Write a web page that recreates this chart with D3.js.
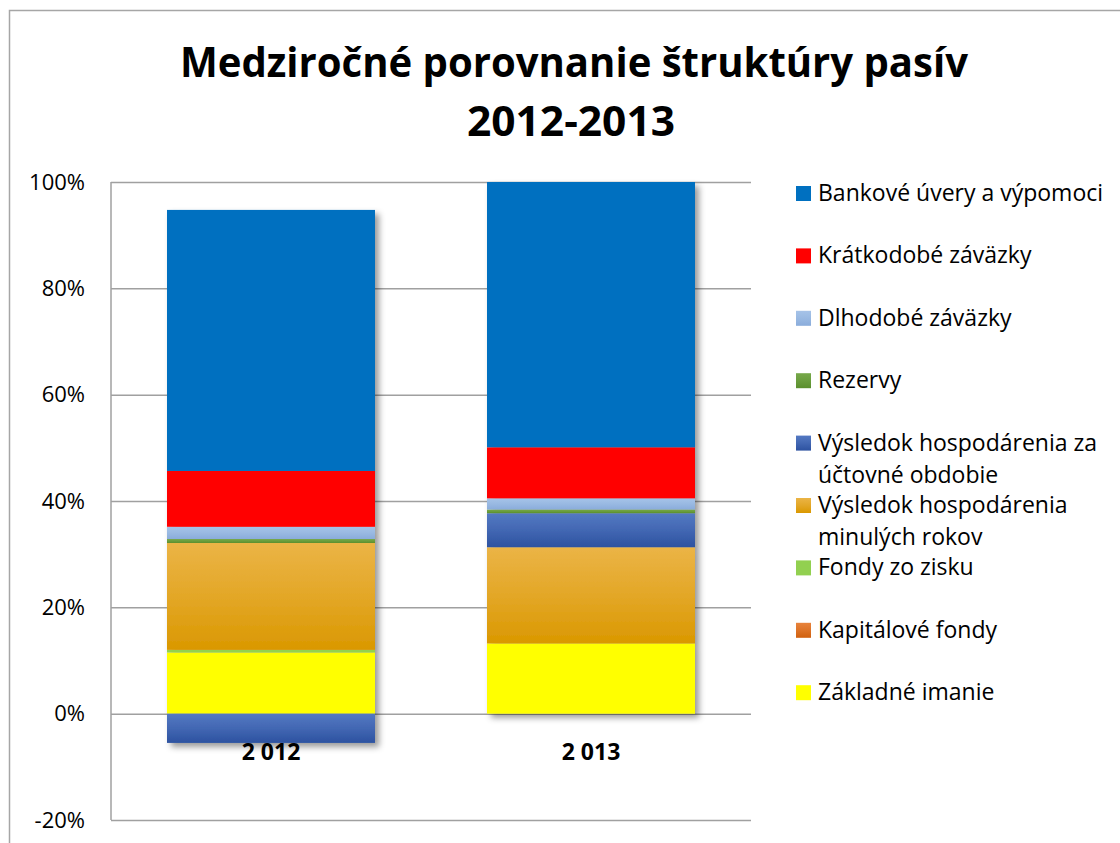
<!DOCTYPE html>
<html>
<head>
<meta charset="utf-8">
<script src="https://cdn.jsdelivr.net/npm/d3@7"></script>
<style>
  body { margin: 0; background: #fff; }
  text { font-family: "Open Sans", sans-serif; fill: #000; }
</style>
</head>
<body>
<div id="chart"></div>
<script>
// categories and series, stacked from the bottom up
const years = ["2 012", "2 013"];
const series = [
  "Základné imanie",
  "Kapitálové fondy",
  "Fondy zo zisku",
  "Výsledok hospodárenia minulých rokov",
  "Výsledok hospodárenia za účtovné obdobie",
  "Rezervy",
  "Dlhodobé záväzky",
  "Krátkodobé záväzky",
  "Bankové úvery a výpomoci"
];
const values2012 = [11.5, 0, 0.5, 20.1, -5.5, 0.75, 2.3, 10.5, 49.1];
const values2013 = [13.2, 0, 0, 18.1, 6.4, 0.7, 2.1, 9.6, 49.9];
const yTicks = [-20, 0, 20, 40, 60, 80, 100];

// top / bottom colour of each series
const colorTop = ["#ffff00", "#e8833c", "#92d050", "#ebb446", "#5479c2", "#77a84a", "#a6c3e8", "#ff0000", "#0070c0"];
const colorBottom = ["#ffff00", "#d0600e", "#92d050", "#da9800", "#2d52a0", "#5b8f2d", "#8aacdb", "#ff0000", "#0070c0"];

const width = 1120, height = 843;
const plot = { left: 111, right: 751, top: 182, bottom: 820 };

const svg = d3.select("#chart").append("svg")
    .attr("width", width)
    .attr("height", height);

const defs = svg.append("defs");
series.forEach((s, i) => {
  const g = defs.append("linearGradient")
      .attr("id", "grad" + i)
      .attr("x1", 0).attr("y1", 0).attr("x2", 0).attr("y2", 1);
  g.append("stop").attr("offset", "0%").attr("stop-color", colorTop[i]);
  g.append("stop").attr("offset", "50%").attr("stop-color", d3.interpolateRgb(colorTop[i], colorBottom[i])(0.45));
  g.append("stop").attr("offset", "100%").attr("stop-color", colorBottom[i]);
});
defs.append("filter").attr("id", "shadow")
    .attr("x", "-10%").attr("y", "-10%").attr("width", "130%").attr("height", "130%")
  .append("feDropShadow")
    .attr("dx", 4).attr("dy", 4).attr("stdDeviation", 3)
    .attr("flood-color", "#000").attr("flood-opacity", 0.4);

// chart border
svg.append("rect")
    .attr("x", 9.5).attr("y", 10.5)
    .attr("width", 1300).attr("height", 1000)
    .attr("fill", "none").attr("stroke", "#a6a6a6").attr("stroke-width", 1.5);

// title
const title = svg.append("g").attr("font-weight", "bold");
title.append("text")
    .attr("x", 574).attr("y", 77)
    .attr("text-anchor", "middle")
    .attr("font-size", 41)
    .attr("textLength", 788).attr("lengthAdjust", "spacingAndGlyphs")
    .text("Medziročné porovnanie štruktúry pasív");
title.append("text")
    .attr("x", 571).attr("y", 136)
    .attr("text-anchor", "middle")
    .attr("font-size", 41)
    .attr("textLength", 208).attr("lengthAdjust", "spacingAndGlyphs")
    .text("2012-2013");

// scales
const x = d3.scaleBand()
    .domain(years)
    .range([plot.left, plot.right])
    .paddingInner(0.35)
    .paddingOuter(0.175);

const y = d3.scaleLinear()
    .domain([-20, 100])
    .range([plot.bottom, plot.top]);

// gridlines + tick labels
const yAxis = svg.append("g")
    .attr("transform", `translate(${plot.left},0)`)
    .call(d3.axisLeft(y)
      .tickValues(yTicks)
      .tickSize(-(plot.right - plot.left))
      .tickPadding(26)
      .tickFormat(d => d + "%"));
yAxis.select(".domain").remove();
yAxis.selectAll(".tick line").attr("stroke", "#a0a0a0").attr("stroke-width", 1.5);
yAxis.selectAll(".tick text").attr("font-size", 22).attr("font-family", "Open Sans");

svg.append("line")
    .attr("x1", plot.left).attr("x2", plot.left)
    .attr("y1", plot.top).attr("y2", plot.bottom)
    .attr("stroke", "#a0a0a0").attr("stroke-width", 1.5);

// stacked bars
const rows = years.map((yr, j) => {
  const vals = j === 0 ? values2012 : values2013;
  const row = { year: yr };
  series.forEach((s, i) => row[s] = vals[i]);
  return row;
});
const stacked = d3.stack()
    .keys(series)
    .offset(d3.stackOffsetDiverging)(rows);

const bars = svg.append("g").selectAll("g")
  .data(years)
  .join("g")
    .attr("filter", "url(#shadow)");

bars.selectAll("rect")
  .data((yr, j) => stacked.map((layer, i) => ({ i, lo: layer[j][0], hi: layer[j][1], year: yr })))
  .join("rect")
    .attr("x", d => x(d.year))
    .attr("width", x.bandwidth())
    .attr("y", d => y(Math.max(d.lo, d.hi)))
    .attr("height", d => Math.abs(y(d.lo) - y(d.hi)))
    .attr("fill", d => `url(#grad${d.i})`);

// category labels
svg.append("g").selectAll("text")
  .data(years)
  .join("text")
    .attr("x", d => x(d) + x.bandwidth() / 2)
    .attr("y", y(0) + 46)
    .attr("text-anchor", "middle")
    .attr("font-size", 23)
    .attr("font-weight", "bold")
    .text(d => d);

// legend
const legendTop = 193, legendStep = 62.4, lineStep = 32, maxLine = 300;
const legend = svg.append("g");
const legendOrder = series.map((s, i) => i).reverse();
legendOrder.forEach((si, k) => {
  const cy = legendTop + k * legendStep;
  legend.append("rect")
      .attr("x", 796).attr("y", cy - 7)
      .attr("width", 15).attr("height", 15)
      .attr("fill", `url(#grad${si})`);
  const t = legend.append("text")
      .attr("font-size", 23);
  // wrap words into lines
  const words = series[si].split(" ");
  let line = [], n = 0;
  let ts = t.append("tspan").attr("x", 818).attr("y", cy).attr("dy", "0.35em");
  words.forEach(w => {
    line.push(w);
    ts.text(line.join(" "));
    if (ts.node().getComputedTextLength() > maxLine && line.length > 1) {
      line.pop();
      ts.text(line.join(" "));
      line = [w];
      n++;
      ts = t.append("tspan").attr("x", 818).attr("y", cy + n * lineStep).attr("dy", "0.35em").text(w);
    }
  });
});
</script>
</body>
</html>
